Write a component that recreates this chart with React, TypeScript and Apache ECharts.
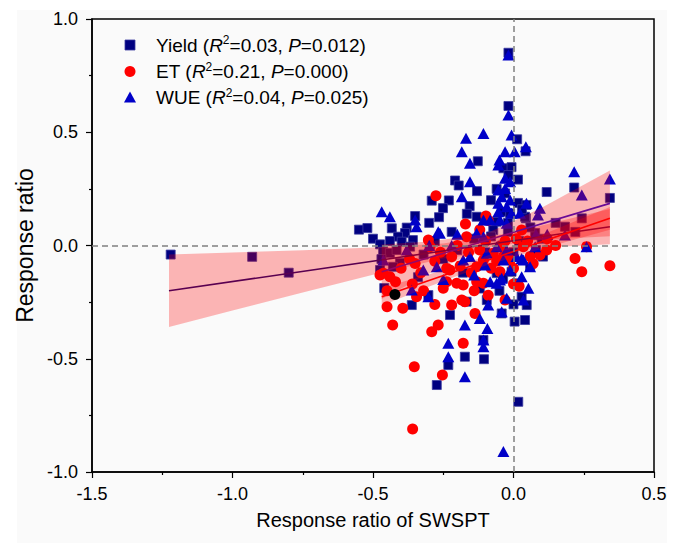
import React, { useEffect, useRef } from "react";
import * as echarts from "echarts";

const FONT = "'Liberation Sans', Arial, Helvetica, sans-serif";

// ---------- scatter data ----------
const yieldPoints: [number, number][] = [
  [-1.22, -0.04], [-0.93, -0.05], [-0.8, -0.12],
  [-0.55, 0.07], [-0.52, 0.077], [-0.5, 0.03], [-0.475, 0.005],
  [-0.018, 0.851], [-0.018, 0.616], [0.013, 0.469], [0.043, 0.416], [-0.127, 0.372],
  [-0.208, 0.287], [-0.195, 0.265], [-0.036, 0.341], [-0.007, 0.346], [0.016, 0.291],
  [-0.018, 0.311], [-0.06, 0.25], [-0.03, 0.23], [0.118, 0.236], [0.216, 0.256],
  [0.343, 0.21], [-0.291, 0.198], [-0.23, 0.199], [-0.251, 0.165], [-0.156, 0.174],
  [-0.166, 0.14], [-0.131, 0.127], [-0.265, 0.125], [0.016, 0.188], [0.046, 0.179],
  [-0.042, 0.149], [-0.012, 0.142], [0.044, 0.12], [0.243, 0.12], [0.183, 0.083],
  [-0.06, 0.105], [-0.072, 0.068],
  [-0.433, 0.076], [-0.38, 0.079], [-0.386, 0.055], [-0.411, 0.039], [-0.358, 0.024],
  [-0.398, 0.017], [-0.368, -0.005], [-0.464, -0.027], [-0.44, -0.033], [-0.416, -0.02],
  [-0.404, -0.077], [-0.429, -0.094], [-0.475, -0.108], [-0.46, -0.188],
  [0.077, 0.055], [0.041, 0.127],
  [-0.362, -0.263], [-0.303, -0.219], [-0.226, -0.307], [-0.167, -0.248], [-0.173, -0.491],
  [-0.232, -0.528], [-0.273, -0.616], [-0.105, -0.502], [-0.107, -0.417], [-0.095, -0.241],
  [-0.042, -0.3], [0.004, -0.336], [0.041, -0.329], [0.047, -0.263], [0.017, -0.69],
  [0.029, -0.226], [0.011, -0.167], [-0.037, -0.144], [-0.06, -0.122], [-0.007, -0.116],
  [0.105, -0.049], [0.059, -0.094],
  [-0.32, -0.04], [-0.28, 0.02], [-0.25, -0.06], [-0.2, -0.02], [-0.18, -0.12],
  [-0.14, 0.03], [-0.1, -0.03], [-0.08, 0.04], [-0.04, 0.0], [-0.02, 0.06],
  [0.0, -0.03], [0.02, 0.02], [0.06, 0.08], [0.1, 0.03], [0.15, 0.1], [0.08, -0.02],
  [-0.34, -0.14], [-0.12, -0.19], [-0.05, -0.2], [0.0, -0.26], [-0.13, 0.24],
  [-0.08, 0.2], [-0.02, 0.1], [0.03, 0.16], [-0.22, 0.06], [-0.3, 0.1], [-0.35, 0.13],
  [-0.44, 0.02], [-0.47, -0.06], [0.22, 0.06],
];

const etPoints: [number, number][] = [
  [-0.276, 0.22], [-0.171, 0.095], [-0.098, 0.13], [-0.09, 0.11], [0.219, -0.057],
  [0.26, -0.005], [0.243, -0.116], [0.343, -0.089], [0.118, -0.02], [0.094, -0.042],
  [-0.463, -0.123], [-0.44, -0.138], [-0.35, -0.079], [-0.303, 0.024], [-0.238, -0.101],
  [-0.238, -0.16], [-0.202, -0.167], [-0.179, -0.174], [-0.25, -0.189], [-0.131, -0.094],
  [-0.107, -0.064], [-0.072, -0.034], [-0.036, -0.049], [-0.012, -0.064], [0.035, -0.005],
  [0.059, -0.049], [-0.048, -0.005], [0.029, 0.068], [-0.167, 0.039], [-0.297, -0.005],
  [-0.475, -0.13], [-0.345, -0.226], [-0.394, -0.277], [-0.43, -0.351], [-0.268, -0.351],
  [-0.291, -0.381], [-0.22, -0.263], [-0.184, -0.241], [-0.173, -0.248], [-0.137, -0.3],
  [-0.179, -0.432], [-0.253, -0.572], [-0.353, -0.535], [-0.359, -0.81], [-0.226, -0.108],
  [-0.131, -0.16], [-0.107, -0.167], [-0.048, -0.116], [-0.03, -0.241],
  [-0.4, -0.1], [-0.37, -0.06], [-0.33, -0.12], [-0.28, -0.07], [-0.26, -0.03],
  [-0.22, -0.05], [-0.19, -0.09], [-0.16, -0.03], [-0.15, -0.12], [-0.12, -0.02],
  [-0.1, 0.02], [-0.08, -0.1], [-0.06, -0.07], [-0.03, 0.02], [0.0, -0.1], [0.01, 0.03],
  [0.05, 0.02], [0.07, -0.08], [0.12, 0.03], [0.15, 0.0], [-0.45, -0.2], [-0.42, -0.16],
  [-0.36, -0.17], [-0.32, -0.2], [-0.12, 0.07], [-0.2, 0.0], [-0.14, -0.2], [0.0, -0.17],
  [-0.09, -0.22], [-0.45, -0.27], [-0.28, -0.26], [0.02, -0.18],
];

const wuePoints: [number, number][] = [
  [-0.018, 0.841], [-0.018, 0.576], [-0.107, 0.495], [-0.169, 0.473], [-0.007, 0.488],
  [0.044, 0.436], [-0.184, 0.414], [-0.03, 0.414], [0.004, 0.414], [-0.155, 0.363],
  [-0.05, 0.377], [-0.054, 0.355], [-0.155, 0.282], [-0.03, 0.297], [-0.012, 0.282],
  [-0.184, 0.215], [-0.054, 0.245], [-0.03, 0.252], [-0.042, 0.215], [-0.012, 0.201],
  [-0.054, 0.186], [-0.024, 0.171], [-0.054, 0.149], [-0.007, 0.142], [-0.048, 0.113],
  [-0.024, 0.098], [0.023, 0.142], [0.046, 0.186], [-0.107, 0.113], [-0.083, 0.113],
  [0.216, 0.326], [0.243, 0.223], [0.094, 0.164], [0.183, 0.046], [-0.262, 0.054],
  [-0.469, 0.149], [-0.44, 0.127], [-0.35, 0.113], [-0.345, 0.083], [-0.268, 0.061],
  [0.343, 0.294], [0.26, -0.005], [0.077, -0.005], [0.087, 0.135], [0.12, 0.05],
  [-0.131, 0.054], [-0.107, 0.039], [-0.095, -0.034], [-0.155, -0.049], [-0.179, -0.064],
  [-0.06, -0.005], [-0.024, -0.02], [-0.036, -0.064], [0.011, -0.049], [0.035, -0.064],
  [0.059, -0.094], [-0.012, -0.108], [-0.048, -0.152], [0.029, -0.138],
  [-0.362, -0.196], [-0.463, -0.064], [-0.273, -0.094], [-0.321, -0.108],
  [-0.303, -0.226], [-0.173, -0.351], [-0.12, -0.322], [-0.093, -0.366], [-0.107, -0.417],
  [-0.107, -0.447], [-0.232, -0.432], [-0.232, -0.491], [-0.173, -0.579], [-0.036, -0.91],
  [-0.09, -0.263], [-0.042, -0.292], [-0.024, -0.233], [0.035, -0.241], [0.053, -0.189],
  [0.029, -0.057], [-0.042, -0.145], [-0.06, -0.167], [-0.101, -0.086], [-0.083, -0.16],
  [-0.2, 0.05], [-0.22, 0.0], [-0.38, -0.02], [-0.25, -0.15], [-0.14, -0.13], [0.08, 0.05],
  [-0.3, 0.0],
];

const highlightPoint: [number, number][] = [[-0.422, -0.216]];

// ---------- regression lines ----------
const yieldLine: [number, number][] = [[-1.226, -0.2], [0.343, 0.083]];
const etLine: [number, number][] = [[-0.469, -0.226], [0.343, 0.12]];
const wueLine: [number, number][] = [[-0.469, -0.116], [0.343, 0.186]];

// ---------- confidence bands ----------
const yieldBandX = [-1.226, -1.0, -0.75, -0.5, -0.25, 0, 0.343];
const yieldBandUpper = [-0.04, -0.031, -0.021, -0.009, 0.009, 0.058, 0.161];
const yieldBandLower = [-0.36, -0.287, -0.207, -0.129, -0.057, -0.016, 0.005];
const etBandX = [-0.469, -0.3, -0.12, 0.1, 0.343];
const etBandUpper = [-0.186, -0.127, -0.057, 0.046, 0.17];
const etBandLower = [-0.266, -0.181, -0.097, -0.014, 0.07];
const wueBandX = [-0.469, -0.3, -0.1, 0.1, 0.343];
const wueBandUpper = [0.004, 0.018, 0.051, 0.167, 0.331];
const wueBandLower = [-0.236, -0.124, -0.009, 0.025, 0.041];

// ---------- legend ----------
const seriesNames = ["Yield", "ET", "WUE"];
const r2Values = ["0.03", "0.21", "0.04"];
const pValues = ["0.012", "0.000", "0.025"];

const COLORS = { yield: "#000080", et: "#ff0000", wue: "#0000c8" };

export default function App() {
  const ref = useRef<HTMLDivElement>(null);

  useEffect(() => {
    document.body.style.margin = "0";
    if (!ref.current) return;
    const chart = echarts.init(ref.current, undefined, { renderer: "svg" });

    const bands = [
      { x: yieldBandX, upper: yieldBandUpper, lower: yieldBandLower },
      { x: etBandX, upper: etBandUpper, lower: etBandLower },
      { x: wueBandX, upper: wueBandUpper, lower: wueBandLower },
    ];

    const legendY = [45, 71.5, 97.5];
    const legendX = 130;
    const legendGraphics: any[] = [];
    legendGraphics.push({
      type: "rect", z: 100,
      shape: { x: legendX - 5, y: legendY[0] - 5, width: 10, height: 10 },
      style: { fill: COLORS.yield, stroke: "#3a3aa0", lineWidth: 0.8 },
    });
    legendGraphics.push({
      type: "circle", z: 100,
      shape: { cx: legendX, cy: legendY[1], r: 5.5 },
      style: { fill: COLORS.et },
    });
    legendGraphics.push({
      type: "polygon", z: 100,
      shape: { points: [[legendX - 6, legendY[2] + 5], [legendX + 6, legendY[2] + 5], [legendX, legendY[2] - 6]] },
      style: { fill: COLORS.wue },
    });
    seriesNames.forEach((name, i) => {
      legendGraphics.push({
        type: "text", z: 100,
        style: {
          x: 156,
          y: legendY[i],
          verticalAlign: "middle",
          text: `{n|${name} (}{i|R}{s|2}{n|=${r2Values[i]}, }{i|P}{n|=${pValues[i]})}`,
          rich: {
            n: { fontSize: 19, fontFamily: FONT, fill: "#000", lineHeight: 22 },
            i: { fontSize: 19, fontFamily: FONT, fontStyle: "italic", fill: "#000", lineHeight: 22 },
            s: { fontSize: 12, fontFamily: FONT, fill: "#000", lineHeight: 15, verticalAlign: "top" },
          },
        },
      });
    });

    const axisCommon = {
      type: "value" as const,
      interval: 0.5,
      axisLine: { onZero: false, lineStyle: { color: "#000", width: 1.5 } },
      axisTick: { length: 6, lineStyle: { color: "#000", width: 1.2 } },
      minorTick: { show: true, splitNumber: 2, length: 3, lineStyle: { color: "#000", width: 1.2 } },
      splitLine: { show: false },
      nameLocation: "middle" as const,
    };

    chart.setOption({
      animation: false,
      backgroundColor: "transparent",
      grid: {
        left: 92, right: 27, top: 19, bottom: 71,
        show: true, borderColor: "#000", borderWidth: 1.5, backgroundColor: "transparent",
      },
      xAxis: {
        ...axisCommon,
        min: -1.5, max: 0.5,
        axisLabel: { color: "#000", fontSize: 18, fontFamily: FONT, margin: 13, formatter: (v: number) => v.toFixed(1) },
        name: "Response ratio of SWSPT",
        nameGap: 38,
        nameTextStyle: { color: "#000", fontSize: 20, fontFamily: FONT },
      },
      yAxis: {
        ...axisCommon,
        min: -1, max: 1,
        axisLabel: { color: "#000", fontSize: 18, fontFamily: FONT, margin: 14, formatter: (v: number) => v.toFixed(1) },
        name: "Response ratio",
        nameGap: 56,
        nameRotate: 90,
        nameTextStyle: { color: "#000", fontSize: 23, fontFamily: FONT },
      },
      graphic: legendGraphics,
      series: [
        {
          type: "scatter", name: seriesNames[0], data: yieldPoints, symbol: "rect", symbolSize: 9, z: 2,
          itemStyle: { color: COLORS.yield, borderColor: "#3a3aa0", borderWidth: 0.8, opacity: 1 },
        },
        {
          type: "scatter", name: seriesNames[1], data: etPoints, symbol: "circle", symbolSize: 11, z: 2,
          itemStyle: { color: COLORS.et, opacity: 1 },
        },
        {
          type: "scatter", name: seriesNames[2], data: wuePoints, symbol: "triangle", symbolSize: [12, 11], z: 2,
          itemStyle: { color: COLORS.wue, opacity: 1 },
        },
        { type: "line", data: yieldLine, symbol: "none", z: 3, lineStyle: { color: "#1a0070", width: 1.6 } },
        { type: "line", data: etLine, symbol: "none", z: 3, lineStyle: { color: "#ff0000", width: 1.6 } },
        { type: "line", data: wueLine, symbol: "none", z: 3, lineStyle: { color: "#3010d0", width: 1.6 } },
        {
          type: "custom", z: 4, silent: true,
          data: [[-1, 0], [-1, 0], [-1, 0]],
          renderItem: (params: any, api: any) => {
            const b = bands[params.dataIndex];
            const pts: number[][] = [];
            b.x.forEach((x, i) => pts.push(api.coord([x, b.upper[i]])));
            for (let i = b.x.length - 1; i >= 0; i--) pts.push(api.coord([b.x[i], b.lower[i]]));
            return { type: "polygon", shape: { points: pts }, style: { fill: "rgba(255,0,0,0.28)" } };
          },
        },
        {
          type: "scatter", data: highlightPoint, symbol: "circle", symbolSize: 11, z: 10,
          itemStyle: { color: "#000", opacity: 1 },
          markLine: {
            silent: true, symbol: ["none", "none"], label: { show: false },
            lineStyle: { color: "#808080", type: [6, 4], width: 1.5 },
            data: [{ xAxis: 0 }, { yAxis: 0 }],
          },
        },
      ],
    });

    return () => chart.dispose();
  }, []);

  return (
    <div style={{ position: "relative", width: 681, height: 543, background: "#fff" }}>
      <div style={{ position: "absolute", left: 17, top: 10, width: 650, height: 533, background: "#fafafa" }} />
      <div ref={ref} style={{ position: "absolute", left: 0, top: 0, width: 681, height: 543 }} />
    </div>
  );
}
